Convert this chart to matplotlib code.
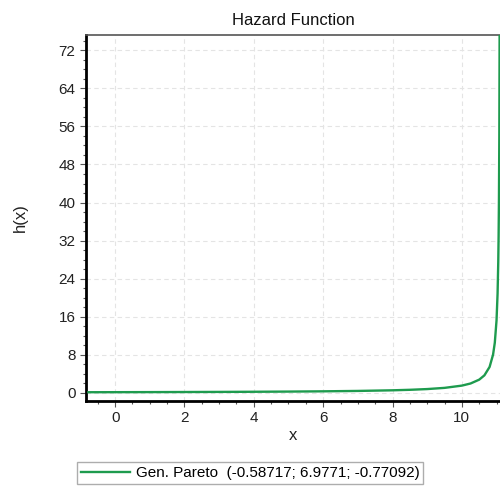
import matplotlib
matplotlib.use("Agg")
import matplotlib.pyplot as plt
from matplotlib.ticker import MultipleLocator

plt.rcParams['font.family'] = ['Liberation Sans', 'DejaVu Sans']

title = "Hazard Function"
x_label = "x"
y_label = "h(x)"
legend_label = "Gen. Pareto  (-0.58717; 6.9771; -0.77092)"

x_vals = [-0.77, 0, 1, 2, 3, 4, 5, 6, 7, 8, 8.5, 9, 9.5, 10, 10.25, 10.5,
          10.65, 10.8, 10.9, 10.95, 11.0, 11.03, 11.05, 11.06, 11.07, 11.08, 11.09]
h_vals = [0.143, 0.153, 0.168, 0.187, 0.210, 0.240, 0.279, 0.333, 0.414, 0.547,
          0.652, 0.807, 1.057, 1.532, 1.977, 2.784, 3.689, 5.46, 8.05, 10.54,
          15.24, 20.86, 27.6, 33.0, 40.9, 53.8, 78.7]

x_ticks = [0, 2, 4, 6, 8, 10]
y_ticks = [0, 8, 16, 24, 32, 40, 48, 56, 64, 72]

fig = plt.figure(figsize=(5.0, 4.87), dpi=100)
ax = fig.add_axes([0.172, 0.1766, 0.828, 0.7514])

ax.plot(x_vals, h_vals, color='#1E9B4E', lw=1.7, label=legend_label, zorder=3)

ax.set_xlim(-0.84, 11.1)
ax.set_ylim(-1.7, 75.2)
ax.set_xticks(x_ticks)
ax.set_yticks(y_ticks)
ax.xaxis.set_minor_locator(MultipleLocator(0.5))
ax.yaxis.set_minor_locator(MultipleLocator(2))

ax.grid(True, which='major', color='#e4e4e4', linestyle=(0, (4, 3)), lw=0.8)
ax.set_axisbelow(True)

for s in ['left', 'bottom']:
    ax.spines[s].set_color('black')
    ax.spines[s].set_linewidth(2)
ax.spines['top'].set_color('#555555')
ax.spines['top'].set_linewidth(1.2)
ax.spines['right'].set_visible(False)

ax.tick_params(axis='both', which='major', length=4, width=0.8, color='#555555',
               labelsize=11, labelcolor='#222222')
ax.tick_params(axis='both', which='minor', length=2.5, width=0.8, color='#555555')

ax.set_title(title, fontsize=12, pad=7, color='#111111')
ax.set_xlabel(x_label, fontsize=12, labelpad=2, color='#222222')
ax.set_ylabel(y_label, fontsize=12, labelpad=22, color='#222222')

fig.legend(loc='center', bbox_to_anchor=(0.5, 0.029), fontsize=11, frameon=True,
           fancybox=False, edgecolor='#999999', handlelength=3.2, borderpad=0.25,
           handletextpad=0.4)

fig.savefig("out.png", dpi=100)
